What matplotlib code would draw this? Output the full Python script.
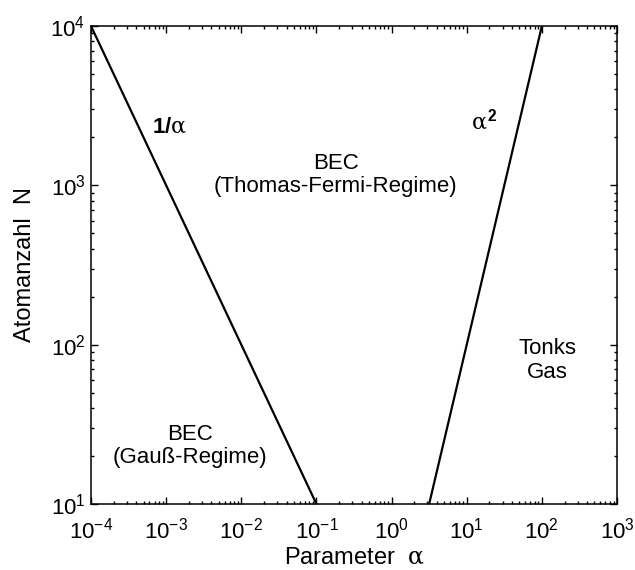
"""Phase diagram of a trapped 1D Bose gas: atom number N vs. parameter alpha.

Two boundaries split the plane into the Gaussian BEC, the Thomas-Fermi BEC and
the Tonks gas regimes.
"""
import matplotlib
matplotlib.use("Agg")
import matplotlib.pyplot as plt

plt.rcParams["font.family"] = ["Liberation Sans", "DejaVu Sans"]
plt.rcParams["mathtext.fontset"] = "custom"
plt.rcParams["mathtext.rm"] = "Liberation Sans"
plt.rcParams["mathtext.it"] = "DejaVu Serif"
plt.rcParams["mathtext.bf"] = "Liberation Sans:bold"

# boundary N ~ 1/alpha (Gauss -> Thomas-Fermi)
alpha_inv = [1e-4, 1e-1]
n_inv = [1e4, 1e1]

# boundary N ~ alpha^2 (Thomas-Fermi -> Tonks)
alpha_sq = [3.162, 100.0]
n_sq = [1e1, 1e4]

x_lim = (1e-4, 1e3)
y_lim = (1e1, 1e4)
x_ticks = [1e-4, 1e-3, 1e-2, 1e-1, 1e0, 1e1, 1e2, 1e3]
y_ticks = [1e1, 1e2, 1e3, 1e4]

fig = plt.figure(figsize=(6.35, 5.7), dpi=100)
ax = fig.add_axes([0.1433, 0.1158, 0.8284, 0.8386])

ax.plot(alpha_inv, n_inv, color="black", linewidth=1.6)
ax.plot(alpha_sq, n_sq, color="black", linewidth=1.6)

ax.set_xscale("log")
ax.set_yscale("log")
ax.set_xlim(*x_lim)
ax.set_ylim(*y_lim)
ax.set_xticks(x_ticks)
ax.set_yticks(y_ticks)

ax.tick_params(which="both", direction="in", top=True, right=True,
               width=1.0, labelsize=16)
ax.tick_params(axis="x", pad=10)
ax.tick_params(axis="y", pad=4)
ax.tick_params(which="major", length=5)
ax.tick_params(which="minor", length=2.5)
for sp in ax.spines.values():
    sp.set_linewidth(1.1)

ax.set_xlabel(r"Parameter  $\alpha$", fontsize=17, labelpad=2)
ax.set_ylabel("Atomanzahl  N", fontsize=17, labelpad=10)

txt = dict(ha="center", va="center", fontsize=16, linespacing=1.15)
ax.text(10 ** -0.745, 10 ** 3.065, "BEC\n(Thomas-Fermi-Regime)", **txt)
ax.text(10 ** -2.68, 10 ** 1.364, "BEC\n(Gauß-Regime)", **txt)
ax.text(10 ** 2.07, 10 ** 1.90, "Tonks\nGas", **txt)
ax.text(10 ** -2.95, 10 ** 3.366, r"$\mathbf{1/}\alpha$", ha="center",
        va="center", fontsize=16)
ax.text(10 ** 1.23, 10 ** 3.40, r"$\alpha^{\mathbf{2}}$", ha="center",
        va="center", fontsize=16)

fig.savefig("out.png", dpi=100)
